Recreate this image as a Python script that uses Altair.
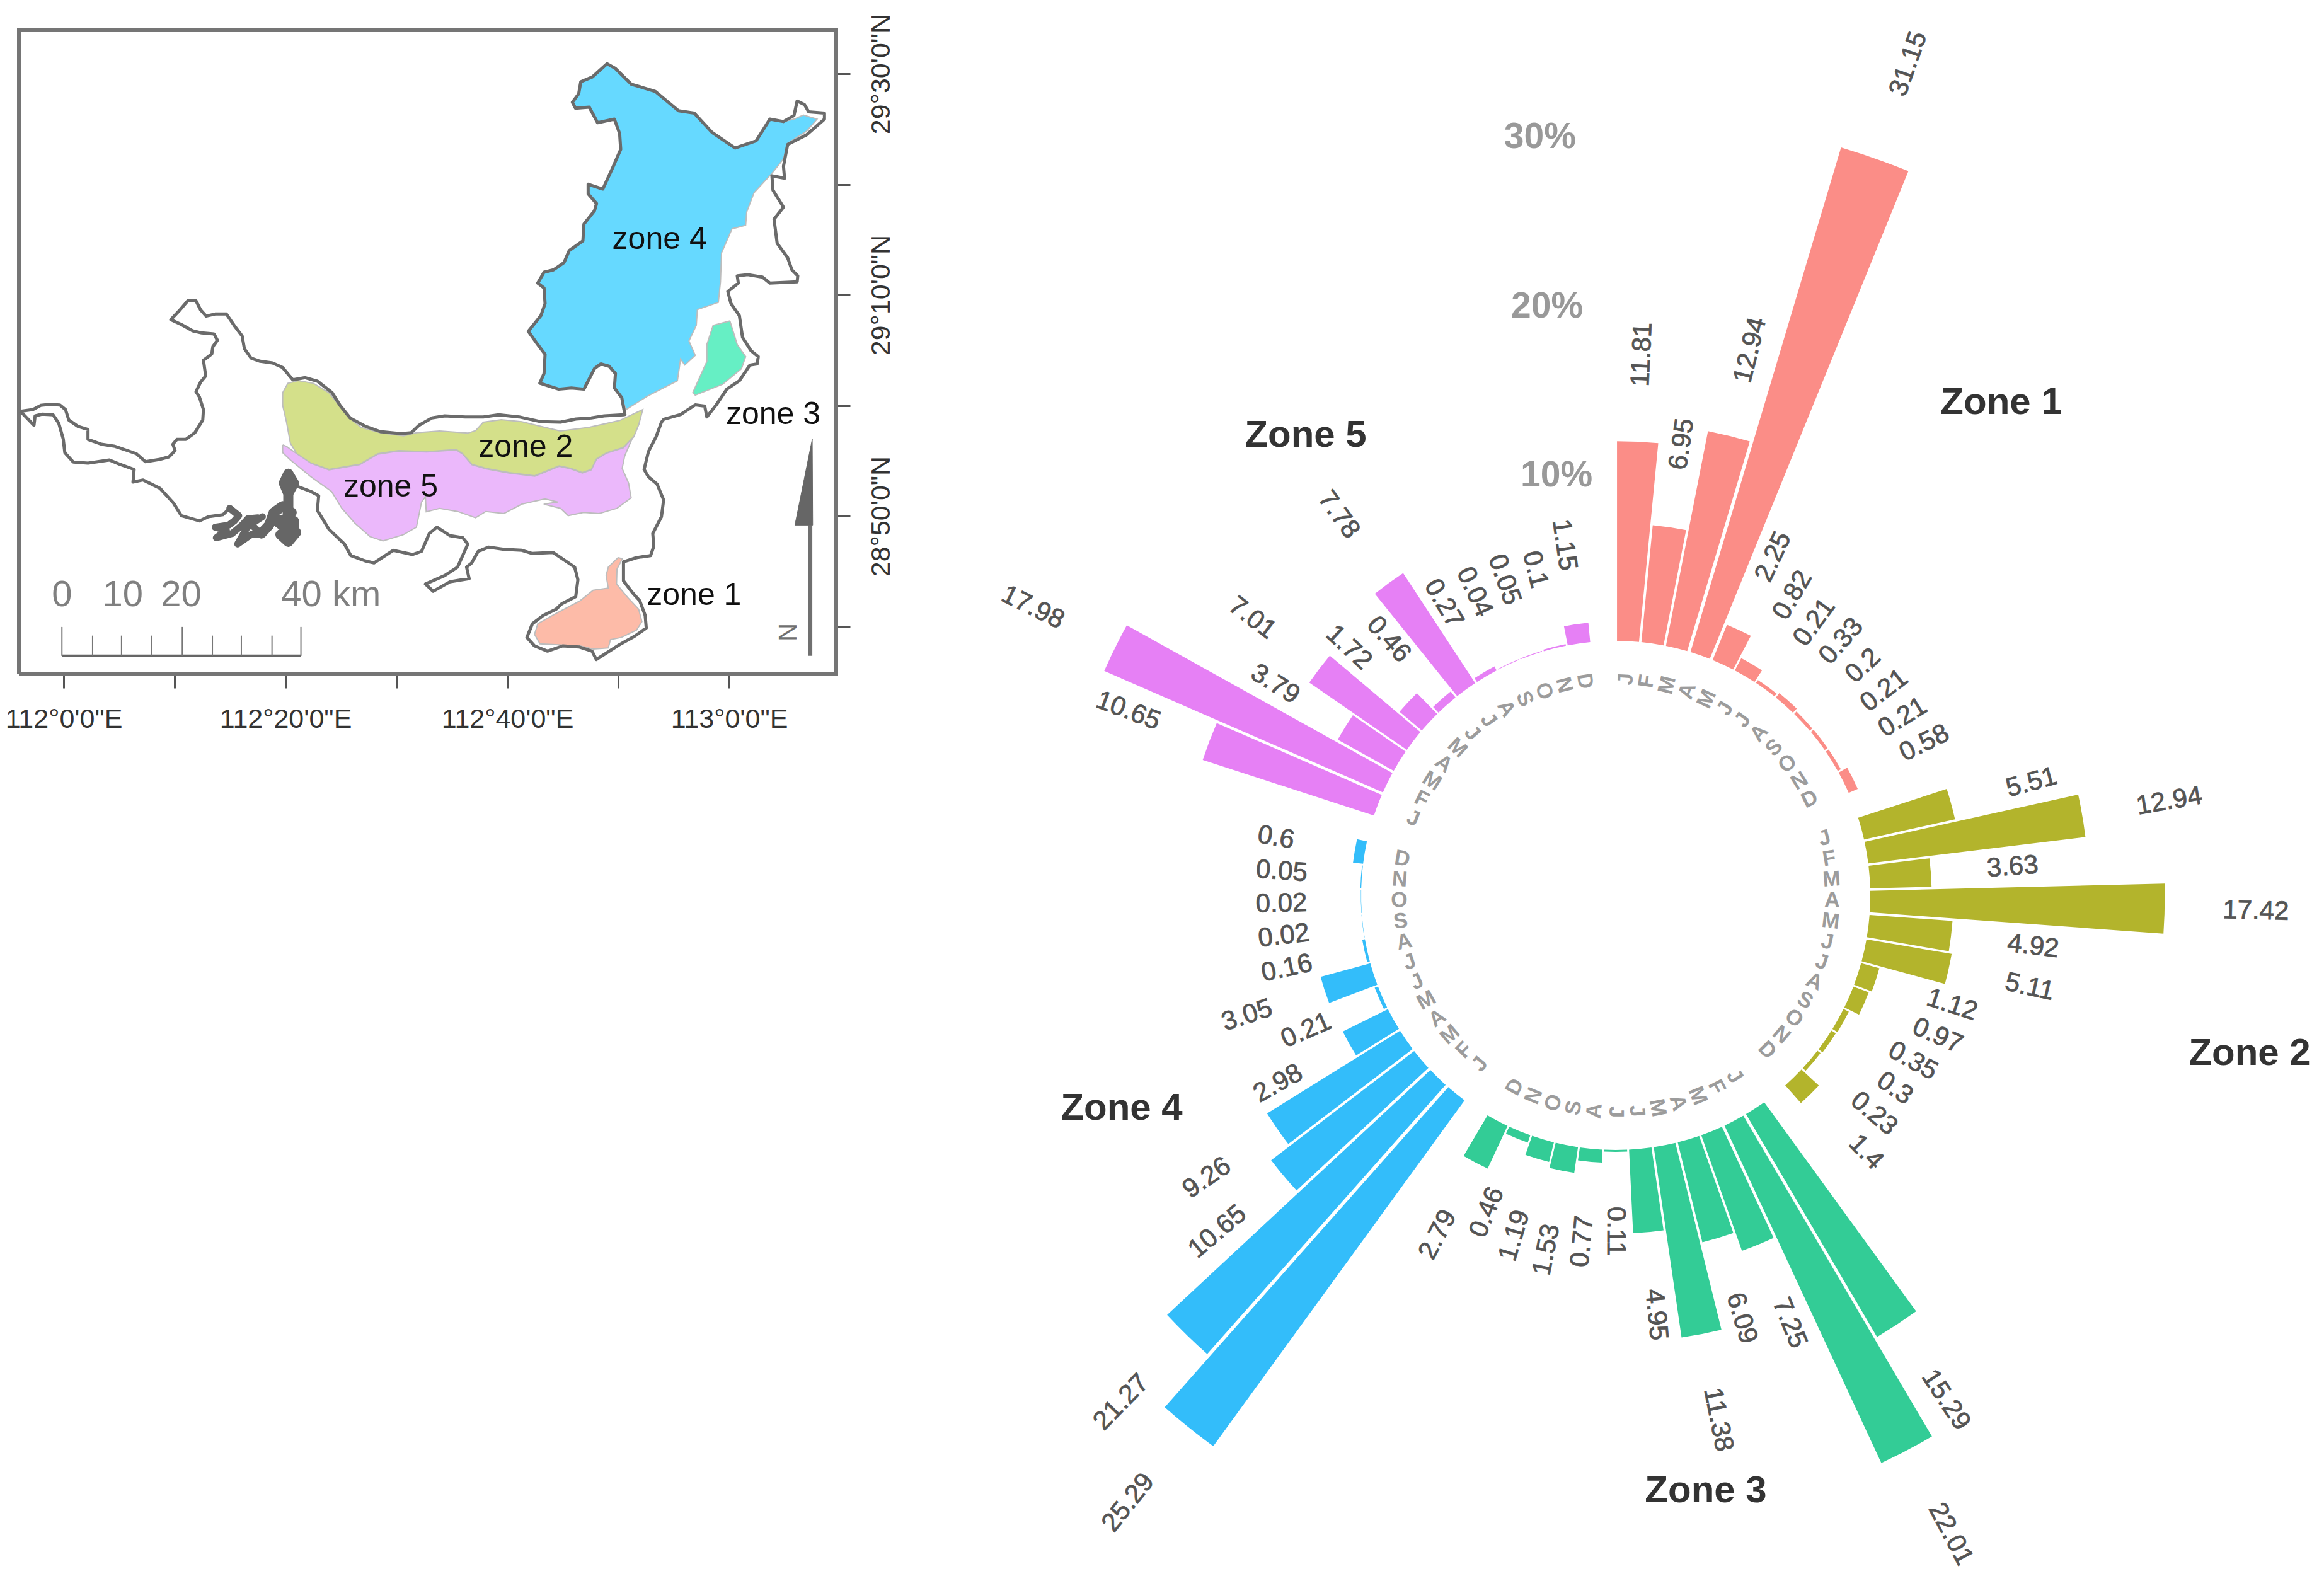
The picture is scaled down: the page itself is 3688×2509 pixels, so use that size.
import altair as alt
import pandas as pd

# ---------- circular chart data ----------
months = list("JFMAMJJASOND")
zone_names = ["Zone 1", "Zone 2", "Zone 3", "Zone 4", "Zone 5"]
zone1 = [11.81, 6.95, 12.94, 31.15, 2.25, 0.82, 0.21, 0.33, 0.2, 0.21, 0.21, 0.58]
zone2 = [5.51, 12.94, 3.63, 17.42, 4.92, 5.11, 1.12, 0.97, 0.35, 0.3, 0.23, 1.4]
zone3 = [15.29, 22.01, 7.25, 6.09, 11.38, 4.95, 0.11, 0.77, 1.53, 1.19, 0.46, 2.79]
zone4 = [25.29, 21.27, 10.65, 9.26, 2.98, 0.21, 3.05, 0.16, 0.02, 0.02, 0.05, 0.6]
zone5 = [10.65, 17.98, 3.79, 7.01, 1.72, 0.46, 7.78, 0.27, 0.04, 0.05, 0.1, 1.15]
zone_colors = ["#FB8D87", "#B3B42C", "#33CC96", "#33BDFA", "#E680F5"]
zone_label_pos = [(3168, 631), (3562, 1664), (2699, 2358), (1772, 1751), (2064, 683)]
pct_ticks = [10, 20, 30]
pct_theta = [63.55, 63.8, 63.97]

rows = []
for z, vals in enumerate([zone1, zone2, zone3, zone4, zone5]):
    for m, v in enumerate(vals):
        i = z * 13 + m
        deg = (i + 0.5) * 360 / 65
        rot = (deg - 90 if deg <= 180.001 else deg - 270) % 360
        rows.append(dict(zone=zone_names[z], i=i, i2=i + 1, mid=i + 0.5, v=v, base=0,
                         lab=f"{v:g}", lr=1.04 * v + 4.7, mon=months[m], mr=-2.25, rot=rot))
polar = pd.DataFrame(rows)

CX, CY = 2556, 1413
theta_scale = alt.Scale(type="linear", domain=[0, 65], range=[0, 6.283185307])
radius_scale = alt.Scale(type="linear", domain=[0, 35], range=[404, 1343], nice=False, zero=False)
FONT = "Liberation Sans"

bars = alt.Chart(polar).mark_arc(padAngle=0.005).encode(
    x=alt.value(CX), y=alt.value(CY),
    theta=alt.Theta("i:Q", scale=theta_scale, stack=None),
    theta2="i2:Q",
    radius=alt.Radius("v:Q", scale=radius_scale),
    radius2="base:Q",
    color=alt.Color("zone:N", scale=alt.Scale(domain=zone_names, range=zone_colors), legend=None),
)
val_labels = alt.Chart(polar).mark_text(font=FONT, fontSize=42, color="#555555", stroke="#555555", strokeWidth=0.8, align="center", baseline="middle").encode(
    x=alt.value(CX), y=alt.value(CY),
    theta=alt.Theta("mid:Q", scale=theta_scale, stack=None),
    radius=alt.Radius("lr:Q", scale=radius_scale),
    angle=alt.Angle("rot:Q", scale=None),
    text="lab:N",
)
mon_labels = alt.Chart(polar).mark_text(font=FONT, fontSize=34, fontWeight="bold", color="#9c9c9c", align="center", baseline="middle").encode(
    x=alt.value(CX), y=alt.value(CY),
    theta=alt.Theta("mid:Q", scale=theta_scale, stack=None),
    radius=alt.Radius("mr:Q", scale=radius_scale),
    angle=alt.Angle("rot:Q", scale=None),
    text="mon:N",
)
pct = pd.DataFrame(dict(r=pct_ticks, t=pct_theta, s=[f"{p}%" for p in pct_ticks]))
pct_labels = alt.Chart(pct).mark_text(font=FONT, fontSize=57, fontWeight="bold", color="#999999", align="center", baseline="middle").encode(
    x=alt.value(CX), y=alt.value(CY),
    theta=alt.Theta("t:Q", scale=theta_scale, stack=None),
    radius=alt.Radius("r:Q", scale=radius_scale),
    text="s:N",
)
zone_titles = [
    alt.Chart(pd.DataFrame(dict(s=[n]))).mark_text(font=FONT, fontSize=60, fontWeight="bold", color="#333333").encode(
        x=alt.value(p[0]), y=alt.value(p[1]), text="s:N")
    for n, p in zip(zone_names, zone_label_pos)
]

SHEET_A = (20, 450, 560, 480)
SHEET_B = (420, 580, 640, 440)
SHEET_C = (820, 80, 520, 600)
SHEET_D = (800, 620, 540, 460)
SHEET_M = (0, 0, 1440, 1200)

shore_a = [(35,608),(90,600),(125,580),(165,575),(210,578),(235,600),(250,650),(290,680),(335,695),(335,742),(395,765),(455,775),(510,795),(550,810),(590,848),(650,838),(695,825),(722,795),(712,765),(730,742),(770,742),(810,710),(845,650),(848,600),(830,540),(815,515),(835,470),(858,440),(848,365),(885,335),(890,300),(910,270),(895,240),(840,235),(800,225),(750,195),(703,172),(740,130),(780,80),(815,82),(835,125),(860,155),(900,145),(950,145),(985,200),(1020,250),(1030,310),(1060,355),(1100,370),(1155,378),(1200,400),(1245,458),(1300,448),(1355,465),(1420,520),(1455,580),(1500,640),(1568,680)]
shore_b1 = [(450,315),(530,325),(570,320),(600,285),(650,250),(700,240),(780,245),(850,245),(910,235),(990,245),(1075,268),(1150,270),(1210,255),(1270,250),(1320,240),(1395,235)]
shore_c = [(515,1510),(500,1440),(465,1400),(470,1340),(440,1310),(400,1300),(370,1320),(320,1405),(260,1400),(200,1405),(110,1380),(130,1340),(135,1260),(100,1220),(55,1165),(115,1100),(135,1050),(130,985),(100,965),(130,920),(175,910),(225,880),(250,830),(315,790),(320,720),(370,665),(380,635),(340,595),(340,555),(410,575),(460,480),(495,410),(490,345),(465,285),(385,300),(345,235),(280,240),(265,215),(295,180),(305,130),(360,110),(430,55),(470,75),(545,140),(660,170),(770,250),(845,260),(930,340),(1040,405),(1140,375),(1205,285),(1270,295),(1320,270),(1335,210),(1370,225),(1390,255),(1465,260),(1465,285),(1380,350),(1290,390),(1270,480),(1275,530),(1215,520),(1220,580),(1270,650),(1225,700),(1240,800),(1290,860),(1310,910),(1338,935),(1335,960),(1205,965),(1170,940),(1100,930),(1050,935),(1055,965),(1005,1000),(1020,1050),(1060,1100),(1075,1190),(1115,1245),(1150,1270),(1145,1300),(1110,1305),(1060,1370),(1000,1405),(950,1470),(905,1520),(895,1475),(850,1470),(780,1510),(700,1530)]
shore_d = [(725,150),(700,220),(665,290),(645,375),(665,410),(705,445),(735,520),(725,600),(685,680),(690,740),(675,785),(610,795),(550,815),(550,905),(590,960),(625,1000),(650,1070),(655,1130),(600,1170),(530,1210),(425,1280),(405,1240),(345,1220),(270,1215),(200,1240),(140,1215),(105,1175),(130,1110),(180,1070),(240,1040),(265,1015),(330,980),(340,900),(325,840),(225,770),(130,775)]
shore_b2 = [(1000,880),(930,875),(870,865),(830,885),(805,940),(785,960),(795,1015),(720,1030),(655,1075),(625,1040),(700,1000),(750,960),(790,850),(770,820),(720,810),(670,770),(640,800),(610,885),(575,900),(500,880),(425,940),(390,930),(335,905),(310,850),(250,780),(205,690),(210,620),(180,600),(115,570),(95,510)]
shore_south = [(35,608),(95,675),(100,630),(130,622),(180,625),(205,665),(225,740),(232,805),(270,850),(335,855),(430,840),(475,860),(540,885),(535,945),(580,935),(655,975),(715,1045),(750,1105),(830,1130),(870,1110),(935,1100),(965,1070)]
delta_west = [(965,1070),(1005,1105),(985,1130),(960,1150),(900,1160),(950,1175),(905,1210),(975,1190),(1020,1150),(1045,1120),(1090,1115),(1040,1165),(1000,1240),(1060,1195),(1105,1195),(1060,1145),(1110,1110)]
delta_east = [(1105,1190),(1140,1150),(1160,1090),(1200,1060),(1240,1090),(1215,1130),(1165,1125),(1215,1165),(1250,1130),(1250,1190),(1190,1195),(1225,1230),(1260,1185),(1220,1130),(1225,1060),(1225,1000),(1205,950),(1225,905),(1250,950),(1225,1000)]

zone2_fill = [(70,130),(90,85),(130,72),(190,85),(250,130),(290,190),(330,250),(375,295),(450,320),(540,335),(590,320),(680,312),(790,322),(820,310),(850,270),(920,258),(1000,268),(1090,295),(1150,312),(1260,295),(1380,262),(1470,210),(1455,280),(1435,340),(1395,390),(1330,415),(1290,445),(1270,495),(1235,510),(1190,490),(1145,478),(1050,525),(950,510),(860,490),(805,470),(770,420),(745,400),(630,410),(520,405),(440,420),(370,470),(250,495),(180,465),(125,420),(100,370),(85,270),(70,190),(70,130)]
zone5_fill = [(70,378),(85,385),(125,420),(180,465),(250,497),(370,472),(440,422),(520,407),(630,412),(745,402),(770,422),(805,472),(860,492),(950,512),(1050,527),(1145,480),(1190,492),(1235,512),(1270,497),(1290,447),(1330,417),(1395,392),(1430,345),(1400,430),(1390,490),(1415,560),(1425,630),(1370,680),(1300,705),(1240,700),(1180,715),(1150,680),(1085,660),(1140,650),(1090,635),(1000,660),(930,705),(860,695),(820,725),(750,695),(680,680),(628,697),(625,625),(610,650),(590,770),(540,805),(460,835),(410,815),(350,750),(300,680),(260,600),(180,530),(100,450),(70,415),(70,378)]
zone4_fill = [(520,1490),(500,1440),(465,1400),(470,1340),(440,1310),(400,1300),(370,1320),(320,1405),(260,1400),(200,1405),(110,1380),(130,1340),(135,1260),(100,1220),(55,1165),(115,1100),(135,1050),(130,985),(100,965),(130,920),(175,910),(225,880),(250,830),(315,790),(320,720),(370,665),(380,635),(340,595),(340,555),(410,575),(460,480),(495,410),(490,345),(465,285),(385,300),(345,235),(280,240),(265,215),(295,180),(305,130),(360,110),(430,55),(470,75),(545,140),(660,170),(770,250),(845,260),(930,340),(1040,405),(1140,375),(1205,285),(1270,295),(1320,285),(1365,268),(1430,285),(1380,335),(1290,385),(1270,450),(1215,510),(1130,590),(1095,670),(1090,725),(1025,740),(975,840),(970,960),(960,1045),(860,1075),(855,1140),(820,1205),(850,1265),(800,1305),(780,1280),(765,1370),(620,1435),(520,1490)]
zone3_fill = [(1015,1122),(1050,1220),(1090,1270),(1070,1320),(980,1385),(850,1430),(838,1420),(905,1290),(905,1220),(935,1140),(1015,1122)]
zone1_fill = [(525,795),(545,800),(520,850),(518,920),(570,985),(620,1040),(635,1100),(610,1140),(540,1175),(490,1185),(480,1225),(410,1230),(350,1215),(250,1210),(165,1205),(140,1160),(155,1110),(240,1060),(350,1000),(410,950),(480,940),(470,880),(480,840),(525,795)]

north_shaft = [(1410,640),(1410,1262)]
north_head = [(1420,230),(1340,640),(1422,640),(1420,230)]
scale_base = [(107,1360),(520,1360)]
scale_ticks_x = [107,160,210,262,315,367,417,470,520]
scale_major = [107,315,520]
map_texts = [("zone 4",SHEET_C,680,785),("zone 3",SHEET_D,1240,115),("zone 2",SHEET_B,1015,390),("zone 5",SHEET_B,490,580),("zone 1",SHEET_D,875,975)]
scale_texts = [("0",107,1235),("10",212,1235),("20",313,1235),("40 km",572,1235)]

lon_ticks = [112 + k / 6 for k in range(7)]
lat_ticks = [29.5 - k / 6 for k in range(6)]
lon_names = {672: "112°0'0\"E", 674: "112°20'0\"E", 676: "112°40'0\"E", 678: "113°0'0\"E"}
lat_names = {177: "29°30'0\"N", 175: "29°10'0\"N", 173: "28°50'0\"N"}


def geo(sheet, pts):
    x0, y0, w, h = sheet
    sx, sy = min(1568, 3 * w) / w, min(1568, 3 * h) / h
    return [(112 + ((x0 + p[0] / sx) - 101) / 1056, 29.5 - ((y0 + p[1] / sy) - 117) / 1053) for p in pts]


def table(coords):
    return pd.DataFrame(dict(lon=[c[0] for c in coords], lat=[c[1] for c in coords], n=range(len(coords))))


def expr(names):
    out = '""'
    for k, s in names.items():
        out = f"round(datum.value*6)=={k}?'" + s.replace("'", "\\'") + f"':{out}"
    return out


X0, X1, Y0, Y1 = 30, 1327, 47, 1070
W, H = 3672, 2493
lon_dom = [112 + (X0 - 101) / 1056, 112 + (X1 - 101) / 1056]
lat_dom = [29.5 - (Y1 - 117) / 1053, 29.5 - (Y0 - 117) / 1053]
x_scale = alt.Scale(domain=lon_dom, range=[X0 - 8, X1 - 8], nice=False, zero=False)
y_scale = alt.Scale(domain=lat_dom, range=[Y1 - 8, Y0 - 8], nice=False, zero=False)
axis_common = dict(title=None, grid=False, domain=False, tickColor="#555555", tickWidth=3, tickSize=22,
                   labelFont=FONT, labelFontSize=43, labelColor="#333333", labelOverlap=False, labelBound=False, labelFlush=False, labelLimit=600)
x_axis = alt.Axis(orient="bottom", offset=(Y1 - 8) - H, values=lon_ticks, labelExpr=expr(lon_names), labelPadding=28, **axis_common)
y_axis = alt.Axis(orient="right", offset=(X1 - 8) - W, values=lat_ticks, labelExpr=expr(lat_names), labelAngle=270, labelAlign="center", labelBaseline="middle", labelPadding=49, **axis_common)


def xy(with_order=True):
    d = dict(x=alt.X("lon:Q", scale=x_scale, axis=x_axis), y=alt.Y("lat:Q", scale=y_scale, axis=y_axis))
    if with_order:
        d["order"] = "n:Q"
    return d


frame_coords = [(lon_dom[0], lat_dom[0]), (lon_dom[1], lat_dom[0]), (lon_dom[1], lat_dom[1]), (lon_dom[0], lat_dom[1]), (lon_dom[0], lat_dom[0])]
layers = [alt.Chart(table(frame_coords)).mark_line(color="#757575", strokeWidth=6, strokeJoin="miter").encode(**xy())]

for col, sh, pts in [("#FDBBA8", SHEET_D, zone1_fill), ("#D4E08A", SHEET_B, zone2_fill), ("#66EFC4", SHEET_C, zone3_fill),
                     ("#66D9FF", SHEET_C, zone4_fill), ("#EBB8FB", SHEET_B, zone5_fill)]:
    layers.append(alt.Chart(table(geo(sh, pts))).mark_line(fill=col, stroke="#BDBDBD", strokeWidth=2).encode(**xy()))

shore_main = (geo(SHEET_A, shore_a) + geo(SHEET_B, shore_b1) + geo(SHEET_C, shore_c) + geo(SHEET_D, shore_d) + geo(SHEET_B, shore_b2))
layers.append(alt.Chart(table(shore_main)).mark_line(color="#6B6B6B", strokeWidth=5, strokeJoin="round").encode(**xy()))
layers.append(alt.Chart(table(geo(SHEET_A, shore_south))).mark_line(color="#6B6B6B", strokeWidth=5, strokeJoin="round").encode(**xy()))
layers.append(alt.Chart(table(geo(SHEET_A, delta_west))).mark_line(color="#666666", strokeWidth=11, strokeJoin="round", strokeCap="round").encode(**xy()))
layers.append(alt.Chart(table(geo(SHEET_A, delta_east))).mark_line(color="#666666", strokeWidth=16, strokeJoin="round", strokeCap="round").encode(**xy()))

layers.append(alt.Chart(table(geo(SHEET_M, scale_base))).mark_line(color="#666666", strokeWidth=4).encode(**xy()))
for t in scale_ticks_x:
    top = 1300 if t in scale_major else 1318
    layers.append(alt.Chart(table(geo(SHEET_M, [(t, 1360), (t, top)]))).mark_line(color="#777777", strokeWidth=2).encode(**xy()))
layers.append(alt.Chart(table(geo(SHEET_D, north_shaft))).mark_line(color="#707070", strokeWidth=7).encode(**xy()))
layers.append(alt.Chart(table(geo(SHEET_D, north_head))).mark_line(fill="#666666", stroke="#666666", strokeWidth=1).encode(**xy()))


def text_layer(items, **mk):
    pos = [geo(t[1], [(t[2], t[3])])[0] for t in items]
    df = pd.DataFrame(dict(s=[t[0] for t in items], lon=[p[0] for p in pos], lat=[p[1] for p in pos]))
    return alt.Chart(df).mark_text(font=FONT, align="center", baseline="middle", **mk).encode(text="s:N", **xy(False))


layers.append(text_layer(map_texts, fontSize=50, color="#111111"))
layers.append(text_layer([(t[0], SHEET_M, t[1], t[2]) for t in scale_texts], fontSize=58, color="#808080"))
layers.append(text_layer([("N", SHEET_D, 1312, 1150)], fontSize=40, color="#707070", angle=270))

layers += [bars, val_labels, mon_labels, pct_labels] + zone_titles

chart = alt.layer(*layers).resolve_scale(color="independent").properties(
    width=W, height=H, padding=0, autosize=alt.AutoSizeParams(type="none"), background="white"
).configure_view(stroke=None)

chart.save("out.html", embed_options={"renderer": "svg", "actions": False})
